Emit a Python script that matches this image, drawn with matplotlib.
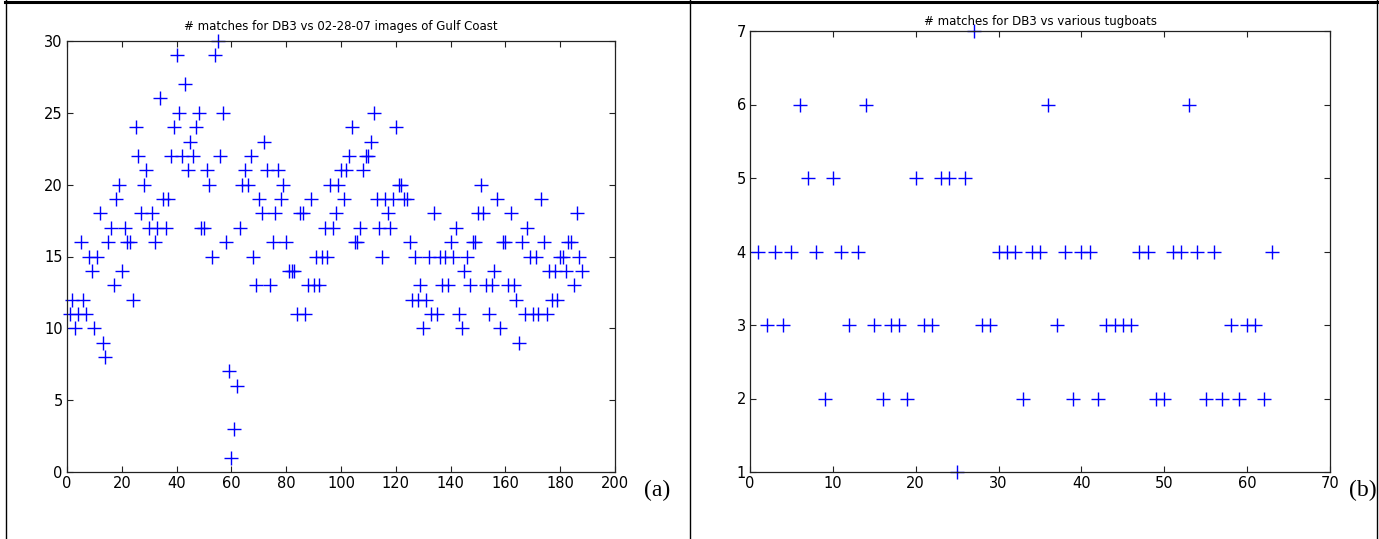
import matplotlib
matplotlib.use("Agg")
import matplotlib.pyplot as plt
from matplotlib.lines import Line2D
import numpy as np

# ---- data: panel (a) ----
gulf_matches = [
    11, 12, 10, 11, 16, 12, 11, 15, 14, 10, 15, 18, 9, 8, 16, 17, 13, 19, 20, 14,
    17, 16, 16, 12, 24, 22, 18, 20, 21, 17, 18, 16, 17, 26, 19,
    17, 19, 22, 24, 29, 25, 22, 27, 21, 23, 22, 24, 25, 17, 17, 21, 20, 15, 29, 30,
    22, 25, 16, 7, 1, 3, 6, 17, 20, 21,
    20, 22, 15, 13, 19, 18, 23, 21, 13, 16, 18, 21, 19, 20, 16, 14, 14, 14, 11, 18,
    18, 11, 13, 19, 13, 15, 13, 15, 17, 15, 20, 17, 18, 20, 21, 19, 21, 22, 24, 16,
    16, 17, 21, 22, 22, 23, 25, 19, 17, 15, 19, 18, 17, 19, 24, 20, 20, 19, 19, 16,
    12, 15, 12, 13, 10, 12, 15, 11, 18, 11, 15,
    13, 15, 13, 16, 15, 17, 11, 10, 14, 15, 13, 16, 16, 18, 20, 18, 13, 11, 13, 14,
    19, 10, 16, 16, 13, 18, 13, 12, 9, 16, 11, 17, 15, 11, 15, 11, 19, 16, 11, 14,
    12, 14, 12, 15, 15, 14, 16, 16, 13, 18, 15, 14,
]
gulf_title = "# matches for DB3 vs 02-28-07 images of Gulf Coast"
gulf_xticks = [0, 20, 40, 60, 80, 100, 120, 140, 160, 180, 200]
gulf_yticks = [0, 5, 10, 15, 20, 25, 30]

# ---- data: panel (b) ----
tug_matches = [
    4, 3, 4, 3, 4, 6, 5, 4, 2, 5, 4, 3, 4, 6, 3, 2, 3, 3, 2, 5,
    3, 3, 5, 5, 1, 5, 7, 3, 3, 4, 4, 4, 2, 4, 4, 6, 3, 4, 2, 4,
    4, 2, 3, 3, 3, 3, 4, 4, 2, 2, 4, 4, 6, 4, 2, 4, 2, 3, 2, 3,
    3, 2, 4,
]
tug_title = "# matches for DB3 vs various tugboats"
tug_xticks = [0, 10, 20, 30, 40, 50, 60, 70]
tug_yticks = [1, 2, 3, 4, 5, 6, 7]

W, H = 1379, 539
fig = plt.figure(figsize=(W / 100, H / 100), dpi=100)
fig.patch.set_facecolor("white")

def ax_rect(l, r, t, b):
    return [l / W, 1 - b / H, (r - l) / W, (b - t) / H]

def style(ax):
    for s in ax.spines.values():
        s.set_linewidth(0.9)
        s.set_color("#222222")
    ax.tick_params(direction="in", length=4, width=0.8, top=True, right=True,
                   labelsize=10.5, colors="#222222", pad=3)
    for lab in ax.get_xticklabels() + ax.get_yticklabels():
        lab.set_color("black")

mk = dict(linestyle="none", marker="+", markersize=9.5, markeredgewidth=1.0,
          color="#0000ff", clip_on=False)

# panel (a)
ax1 = fig.add_axes(ax_rect(67, 615, 41, 472))
x1 = np.arange(1, len(gulf_matches) + 1)
ax1.plot(x1, gulf_matches, **mk)
ax1.set_xlim(0, 200)
ax1.set_ylim(0, 30)
ax1.set_xticks(gulf_xticks)
ax1.set_yticks(gulf_yticks)
style(ax1)
ax1.set_title(gulf_title, fontsize=8.5, pad=8, family="DejaVu Sans")

# panel (b)
ax2 = fig.add_axes(ax_rect(750, 1330, 31, 472))
x2 = np.arange(1, len(tug_matches) + 1)
ax2.plot(x2, tug_matches, **mk)
ax2.set_xlim(0, 70)
ax2.set_ylim(1, 7)
ax2.set_xticks(tug_xticks)
ax2.set_yticks(tug_yticks)
style(ax2)
ax2.set_title(tug_title, fontsize=8.5, pad=4, family="DejaVu Sans")

fig.text(657 / W, 1 - 490 / H, "(a)", fontsize=17, family="Liberation Serif",
         ha="center", va="center")
fig.text(1363 / W, 1 - 490 / H, "(b)", fontsize=17, family="Liberation Serif",
         ha="center", va="center")

# table-like border lines
def hline(y, x0, x1, lw):
    fig.add_artist(Line2D([x0 / W, x1 / W], [1 - y / H, 1 - y / H], color="black", lw=lw))

def vline(x, y0, y1, lw):
    fig.add_artist(Line2D([x / W, x / W], [1 - y0 / H, 1 - y1 / H], color="black", lw=lw))

hline(1.5, 5, 1377, 2.2)
vline(5.5, 0, H, 1.0)
vline(690.5, 0, H, 1.0)
vline(1376.5, 0, H, 1.0)

fig.savefig("out.png", dpi=100)
